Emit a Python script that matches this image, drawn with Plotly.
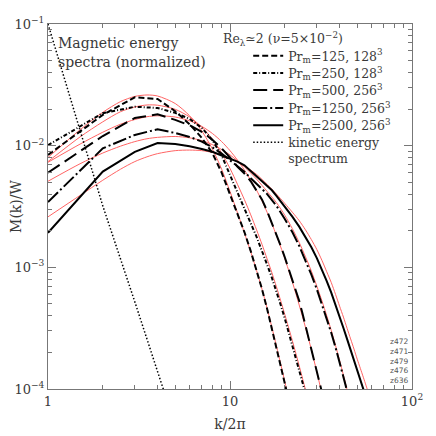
import plotly.graph_objects as go

# ---- data ----
k_125 = [1,2,3,4,5,6,7,8,9,10,11,12,13,14,15,16,17,18,19,20,21,22]
m_125 = [0.0084,0.0179,0.025,0.0242,0.0192,0.0150,0.0116,0.0087,0.0060,0.0040,0.00278,0.00195,
         0.00136,0.00095,0.00066,0.000455,0.000316,0.000222,0.000158,0.000114,0.000083,0.000061]

k_250 = list(range(1, 28))
m_250 = [0.0101,0.0185,0.0209,0.0204,0.0186,0.0166,0.0140,0.0111,0.0083,0.0058,0.0042,0.0031,0.0023,
         0.00178,0.00138,0.00105,0.00082,0.00064,0.00049,0.00038,0.000295,0.00023,0.00018,0.000143,
         0.000114,0.000092,0.000074]

k_500 = list(range(1, 34))
m_500 = [0.0060,0.0120,0.0169,0.0181,0.0163,0.0147,0.0130,0.0112,0.0095,0.0080,0.0067,0.0059,0.0051,
         0.0043,0.0036,0.00290,0.00232,0.00186,0.00150,0.00121,0.00098,0.00080,0.00065,0.00053,
         0.00042,0.00033,0.00026,0.00021,0.000172,0.000140,0.000115,0.000095,0.000078]

k_1250 = [1,2,3,4,5,6,7,8,9,10,11,12,13,14,15,16,17,18,20,22,24,26,28,30,32,34,36,38,40,42,44,46]
m_1250 = [0.00344,0.0095,0.01225,0.01365,0.0127,0.0118,0.0108,0.0097,0.0086,0.0076,0.0068,0.0061,
          0.0054,0.0049,0.0044,0.0040,0.0036,0.0032,0.0025,0.00195,0.0015,0.00115,0.00087,0.00066,
          0.00050,0.00038,0.00029,0.00022,0.000168,0.000128,0.000098,0.000075]

k_2500 = [1,2,3,4,5,6,7,8,9,10,11,12,13,14,15,16,17,18,20,22,24,26,28,30,32,34,36,38,40,42,44,46,
          48,50,52,54,56,58]
m_2500 = [0.00192,0.00612,0.0089,0.0105,0.0103,0.0099,0.0094,0.0089,0.0083,0.0078,0.0074,0.0069,
          0.0062,0.0056,0.0051,0.0047,0.0043,0.00387,0.00316,0.00261,0.00216,0.00178,0.00146,
          0.00119,0.00096,0.00077,0.00062,0.000497,0.000393,0.000317,0.000257,0.000209,0.000172,
          0.000142,0.000119,0.0001,0.000085,0.000072]

k_kin = [1,2,3,4,5]
m_kin = [0.1,0.0032,0.00052,0.000145,0.00005]

# model fits (red)
kf_125 = [1,1.5,2,2.5,3,3.5,4,5,6,7,8,9,10,11,12,13,14,15,16,17,18,19,20,21,22]
mf_125 = [0.0080,0.0135,0.0188,0.0230,0.0254,0.0261,0.0256,0.0222,0.0176,0.0132,0.0094,0.0064,
          0.0042,0.0028,0.00192,0.00134,0.00094,0.00066,0.00046,0.00032,0.000225,0.00016,
          0.000115,0.000083,0.00006]

kf_250 = [1,1.5,2,2.5,3,3.5,4,5,6,7,8,9,10,11,12,13,14,15,16,17,18,19,20,22,24,26,28]
mf_250 = [0.0074,0.0118,0.0157,0.0190,0.0208,0.0216,0.0215,0.0199,0.0172,0.0142,0.0113,0.0087,
          0.0065,0.0048,0.0036,0.0027,0.00203,0.00154,0.00117,0.00090,0.00069,0.00053,0.00041,
          0.00025,0.000155,0.000098,0.000062]

kf_500 = [1,1.5,2,2.5,3,3.5,4,5,6,7,8,9,10,11,12,13,14,15,16,17,18,19,20,22,24,26,28,30,32,34]
mf_500 = [0.0073,0.0103,0.0129,0.0150,0.0164,0.0173,0.0176,0.0172,0.0160,0.0144,0.0126,0.0108,
          0.0091,0.0076,0.0063,0.0052,0.0043,0.0035,0.00283,0.00228,0.00183,0.00147,0.00118,
          0.00076,0.00049,0.00032,0.00021,0.000138,0.000091,0.00006]

kf_1250 = [1,1.5,2,2.5,3,3.5,4,5,6,7,8,9,10,12,14,16,18,20,22,24,26,28,30,32,34,36,38,40,42,44,46]
mf_1250 = [0.0051,0.0071,0.0087,0.0099,0.0108,0.0114,0.0117,0.0119,0.0116,0.0110,0.0102,0.0093,
           0.0084,0.0067,0.0053,0.0042,0.0034,0.00268,0.00208,0.0016,0.00122,0.00093,0.0007,
           0.00053,0.0004,0.000303,0.000228,0.000172,0.00013,0.000098,0.000074]

kf_2500 = [1,1.5,2,2.5,3,3.5,4,5,6,7,8,9,10,12,14,16,18,20,22,24,26,28,30,32,34,36,38,40,42,44,46,
           48,50,52,54,56,58,60]
mf_2500 = [0.0026,0.0039,0.0052,0.0064,0.0074,0.0081,0.0086,0.0091,0.0092,0.0091,0.0088,0.0084,
           0.0079,0.0068,0.0058,0.0048,0.0040,0.00335,0.00284,0.00242,0.00203,0.00169,0.0014,
           0.00114,0.00092,0.00075,0.0006,0.00048,0.00039,0.000315,0.000258,0.000213,0.000176,
           0.000148,0.000125,0.000106,0.00009,0.000076]

legend_names = ["Pr<sub>m</sub>=125, 128<sup>3</sup>", "Pr<sub>m</sub>=250, 128<sup>3</sup>",
                "Pr<sub>m</sub>=500, 256<sup>3</sup>", "Pr<sub>m</sub>=1250, 256<sup>3</sup>",
                "Pr<sub>m</sub>=2500, 256<sup>3</sup>", "kinetic energy<br>spectrum"]

x_tickvals = [1, 10, 100]
x_ticktext = ["1", "10", "10<sup>2</sup>"]
y_tickvals = [1e-4, 1e-3, 1e-2, 1e-1]
y_ticktext = ["10<sup>−4</sup>", "10<sup>−3</sup>", "10<sup>−2</sup>", "10<sup>−1</sup>"]

FONT = "DejaVu Serif"
RED = "#ff6464"
TXT = "#3a3a3a"

fig = go.Figure()

fits = [(kf_125, mf_125), (kf_250, mf_250), (kf_500, mf_500), (kf_1250, mf_1250), (kf_2500, mf_2500)]
for kf, mf in fits:
    fig.add_trace(go.Scatter(x=kf, y=mf, mode="lines", showlegend=False, hoverinfo="skip",
                             line=dict(color=RED, width=1, shape="spline", smoothing=0.8)))

data = [(k_125, m_125, "6px,3px", 2), (k_250, m_250, "4px,2px,1px,2px", 2),
        (k_500, m_500, "14px,6px", 2), (k_1250, m_1250, "14px,3px,2px,3px", 2),
        (k_2500, m_2500, "solid", 2), (k_kin, m_kin, "1.5px,2px", 1.5)]
legend_ids = ["legend", "legend2", "legend3", "legend4", "legend5", "legend6"]
for (k, m, dash, w), name, lid in zip(data, legend_names, legend_ids):
    fig.add_trace(go.Scatter(x=k, y=m, mode="lines", name=name, legend=lid,
                             line=dict(color="black", width=w, dash=dash)))

axis_common = dict(type="log", showline=True, linecolor="#777", linewidth=1, mirror="allticks",
                   ticks="inside", ticklen=8, tickcolor="#777", showgrid=False, zeroline=False,
                   tickfont=dict(family=FONT, size=13, color=TXT),
                   minor=dict(ticks="inside", ticklen=4, tickcolor="#777", dtick="D1", showgrid=False))

fig.update_xaxes(range=[0, 2], tickmode="array", tickvals=x_tickvals, ticktext=x_ticktext,
                 title=dict(text="k/2π", font=dict(family=FONT, size=14, color=TXT), standoff=11),
                 automargin=False, **axis_common)
fig.update_yaxes(range=[-4, -1], tickmode="array", tickvals=y_tickvals, ticktext=y_ticktext,
                 title=dict(text="M(k)/W", font=dict(family=FONT, size=14, color=TXT), standoff=4),
                 automargin=False, **axis_common)

fig.add_annotation(x=0.022, y=0.975, xref="paper", yref="paper", xanchor="left", yanchor="top",
                   text="Magnetic energy", showarrow=False, font=dict(family=FONT, size=14, color=TXT))
fig.add_annotation(x=0.022, y=0.922, xref="paper", yref="paper", xanchor="left", yanchor="top",
                   text="spectra (normalized)", showarrow=False, font=dict(family=FONT, size=14, color=TXT))
fig.add_annotation(x=0.475, y=0.988, xref="paper", yref="paper", xanchor="left", yanchor="top",
                   text="Re<sub>λ</sub>≃2 (ν=5×10<sup>−2</sup>)", showarrow=False,
                   font=dict(family=FONT, size=12.5, color=TXT))
fig.add_annotation(x=0.995, y=0.005, xref="paper", yref="paper", xanchor="right", yanchor="bottom",
                   text="z472<br>z471<br>z479<br>z476<br>z636", showarrow=False, align="right",
                   font=dict(family="DejaVu Sans", size=7.5, color="#555"))

# one single-entry legend per row so that the rows keep the reference spacing
legend_tops = [0.953, 0.906, 0.859, 0.810, 0.763, 0.716]
legend_layout = {}
for lid, ytop in zip(legend_ids, legend_tops):
    legend_layout[lid] = dict(x=0.55, y=ytop, xanchor="left", yanchor="top",
                              bgcolor="rgba(0,0,0,0)", valign="top",
                              font=dict(family=FONT, size=12.5, color=TXT))

# page body has an 8px margin: the figure is shrunk so the plot area lands on the reference pixels
fig.update_layout(width=428, height=428, margin=dict(l=40, r=24, t=16, b=47),
                  paper_bgcolor="white", plot_bgcolor="white",
                  font=dict(family=FONT, color=TXT), **legend_layout)

fig.write_html("out.html")
